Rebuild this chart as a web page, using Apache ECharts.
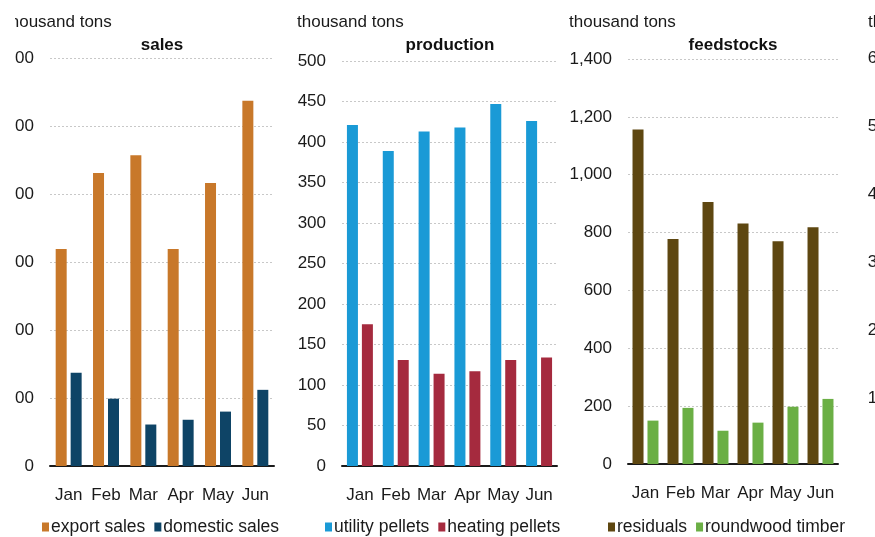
<!DOCTYPE html>
<html><head><meta charset="utf-8">
<script src="https://cdn.jsdelivr.net/npm/echarts@6.0.0/dist/echarts.min.js"></script>
<style>html,body{margin:0;padding:0;background:#fff}#c{width:875px;height:537px}</style>
</head><body><div id="c"></div>
<script>
const months = ['Jan','Feb','Mar','Apr','May','Jun'];
const exportSales = [319,431,457,319,416,537];
const domesticSales = [137,99,61,68,80,112];
const utilityPellets = [421,389,413,418,447,426];
const heatingPellets = [175,131,114,117,131,134];
const residuals = [1156,778,906,831,770,818];
const roundwoodTimber = [150,194,115,143,198,225];
const panelTitles = ['sales','production','feedstocks'];
const unitLabel = 'thousand tons';
const axisMax = [600,500,1400,600];
const axisInterval = [100,50,200,100];

const FONT = "'Liberation Sans', Arial, sans-serif";
const grids = [
  {left:50, top:58, width:224, height:408},
  {left:342, top:61, width:215, height:405},
  {left:628, top:59, width:210, height:405},
  {left:912, top:58, width:200, height:408}
];
const unitX = [5,297,569,868];
const titleX = [162,450,733];
const legendX = [37,320,603];

const seriesDefs = [
  {name:'export sales', data:exportSales, color:'#C8782A', g:0},
  {name:'domestic sales', data:domesticSales, color:'#0E4466', g:0},
  {name:'utility pellets', data:utilityPellets, color:'#1A9AD6', g:1},
  {name:'heating pellets', data:heatingPellets, color:'#A52A3E', g:1},
  {name:'residuals', data:residuals, color:'#5E4711', g:2},
  {name:'roundwood timber', data:roundwoodTimber, color:'#6BAF45', g:2}
];

const chart = echarts.init(document.getElementById('c'), null, {renderer:'canvas'});
const option = {
  animation:false,
  backgroundColor:'#fff',
  grid: grids.map(g => Object.assign({containLabel:false}, g)),
  xAxis: grids.map((g,i) => ({
    type:'category', gridIndex:i, data:months,
    axisLine:{show:true, lineStyle:{color:'#1a1a1a', width:2}},
    axisTick:{show:false},
    axisLabel:{fontFamily:FONT, fontSize:17, color:'#1a1a1a', margin:21, interval:0}
  })),
  yAxis: grids.map((g,i) => ({
    type:'value', gridIndex:i, min:0, max:axisMax[i], interval:axisInterval[i],
    axisLine:{show:false}, axisTick:{show:false},
    splitLine:{show:true, lineStyle:{color:'#c8c8c8', type:[2,2], width:1}},
    axisLabel:{fontFamily:FONT, fontSize:17, color:'#1a1a1a', margin:16,
      formatter: v => v.toLocaleString('en-US')}
  })),
  legend: [0,1,2].map(i => ({
    left:legendX[i], top:513, orient:'horizontal',
    itemWidth:7, itemHeight:9, itemGap:9, icon:'rect',
    textStyle:{fontFamily:FONT, fontSize:17.5, color:'#1a1a1a', padding:[0,0,0,-3]},
    data: seriesDefs.filter(s => s.g===i).map(s => s.name),
    selectedMode:false
  })),
  series: seriesDefs.map(s => ({
    type:'bar', name:s.name, data:s.data,
    xAxisIndex:s.g, yAxisIndex:s.g,
    barWidth:11, barGap:'36%',
    itemStyle:{color:s.color}
  })),
  graphic: [
    ...unitX.map(x => ({type:'text', x:x, y:22, z:10,
      style:{text:unitLabel, fontFamily:FONT, fontSize:17, fill:'#1a1a1a', textAlign:'left', textVerticalAlign:'middle'}})),
    ...titleX.map((x,i) => ({type:'text', x:x, y:45, z:10,
      style:{text:panelTitles[i], fontFamily:FONT, fontSize:17, fontWeight:'bold', fill:'#111', textAlign:'center', textVerticalAlign:'middle'}})),
    {type:'rect', z:100, shape:{x:0,y:0,width:15,height:537}, style:{fill:'#fff'}}
  ]
};
chart.setOption(option);
</script></body></html>
